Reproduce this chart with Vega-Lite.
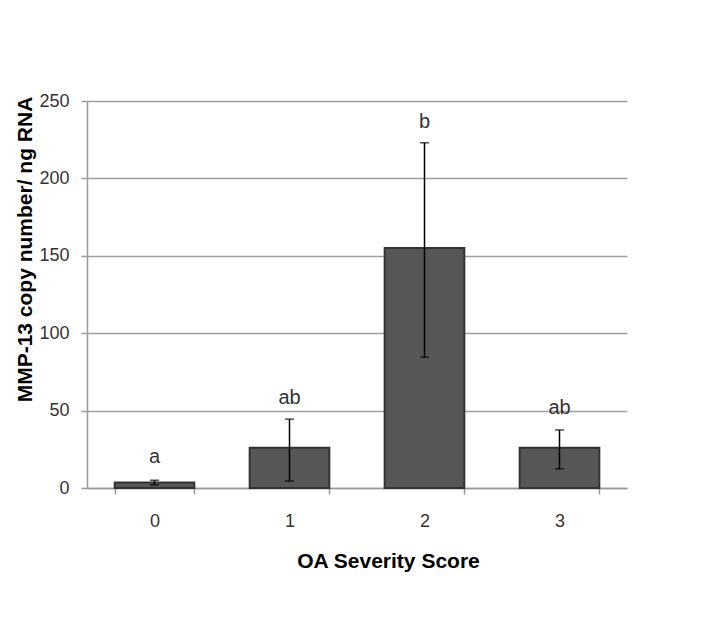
{
  "$schema": "https://vega.github.io/schema/vega-lite/v6.json",
  "width": 540,
  "height": 387,
  "autosize": {"type": "none"},
  "padding": {"left": 87, "top": 101, "right": 74, "bottom": 129},
  "background": "white",
  "config": {
    "font": "Liberation Sans",
    "view": {"stroke": null},
    "axis": {"labelFont": "Liberation Sans", "titleFont": "Liberation Sans"}
  },
  "data": {
    "values": [
      {"score": "0", "mean": 3.5, "lower": 2, "upper": 5, "letter": "a", "letter_y": 20},
      {"score": "1", "mean": 26, "lower": 4.5, "upper": 44.5, "letter": "ab", "letter_y": 58},
      {"score": "2", "mean": 155, "lower": 84.5, "upper": 223, "letter": "b", "letter_y": 236.5},
      {"score": "3", "mean": 26, "lower": 12.3, "upper": 37.5, "letter": "ab", "letter_y": 52}
    ]
  },
  "encoding": {
    "x": {
      "field": "score",
      "type": "nominal",
      "scale": {"paddingInner": 0.41, "paddingOuter": 0.205},
      "axis": {
        "title": "OA Severity Score",
        "labelAngle": 0,
        "labelFontSize": 18,
        "labelColor": "#333333",
        "labelPadding": 18,
        "tickBand": "extent",
        "tickSize": 6,
        "tickColor": "#999999",
        "tickWidth": 1.5,
        "domainColor": "#999999",
        "domainWidth": 1.5,
        "titleFontSize": 21,
        "titleFontWeight": "bold",
        "titleColor": "#000000",
        "titleX": 301,
        "titleY": 73,
        "titleBaseline": "middle",
        "titleAnchor": null
      }
    }
  },
  "layer": [
    {
      "mark": {"type": "bar", "fill": "#565656", "stroke": "#333333", "strokeWidth": 2},
      "encoding": {
        "y": {
          "field": "mean",
          "type": "quantitative",
          "scale": {"domain": [0, 250], "nice": false},
          "axis": {
            "title": "MMP-13 copy number/ ng RNA",
            "values": [0, 50, 100, 150, 200, 250],
            "labelFontSize": 18,
            "labelColor": "#333333",
            "labelPadding": 12,
            "tickSize": 6,
            "tickColor": "#999999",
            "tickWidth": 1.5,
            "domainColor": "#999999",
            "domainWidth": 1.5,
            "grid": true,
            "gridColor": "#a0a0a0",
            "gridWidth": 1.5,
            "titleFontSize": 21,
            "titleFontWeight": "bold",
            "titleColor": "#000000",
            "titleX": -62,
            "titleY": 148,
            "titleAngle": -90,
            "titleAlign": "center",
            "titleBaseline": "middle",
            "titleAnchor": null
          }
        }
      }
    },
    {
      "mark": {"type": "rule", "color": "#000000", "strokeWidth": 1.5},
      "encoding": {
        "y": {"field": "lower", "type": "quantitative", "scale": {"domain": [0, 250], "nice": false}},
        "y2": {"field": "upper"}
      }
    },
    {
      "mark": {"type": "tick", "color": "#000000", "thickness": 1.5, "size": 9},
      "encoding": {
        "y": {"field": "upper", "type": "quantitative", "scale": {"domain": [0, 250], "nice": false}}
      }
    },
    {
      "mark": {"type": "tick", "color": "#000000", "thickness": 1.5, "size": 9},
      "encoding": {
        "y": {"field": "lower", "type": "quantitative", "scale": {"domain": [0, 250], "nice": false}}
      }
    },
    {
      "mark": {"type": "text", "fontSize": 20, "color": "#333333", "baseline": "middle", "align": "center"},
      "encoding": {
        "y": {"field": "letter_y", "type": "quantitative", "scale": {"domain": [0, 250], "nice": false}},
        "text": {"field": "letter"}
      }
    }
  ]
}
